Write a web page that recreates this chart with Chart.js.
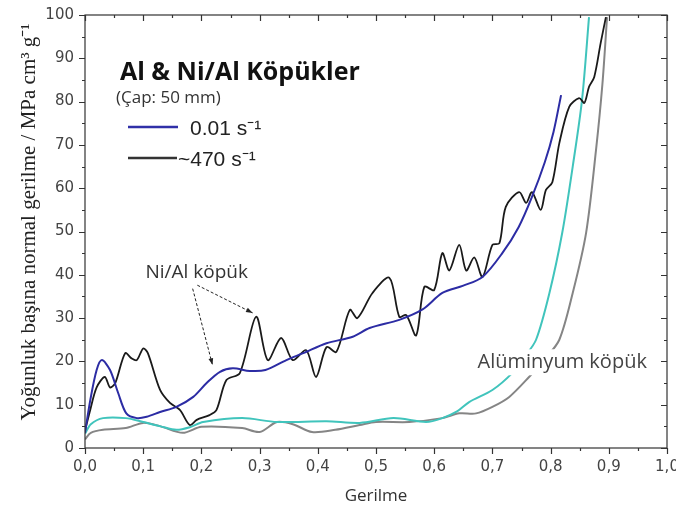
<!DOCTYPE html>
<html>
<head>
<meta charset="utf-8">
<script src="https://cdn.jsdelivr.net/npm/chart.js@4.4.0/dist/chart.umd.min.js"></script>
<style>
  html, body { margin: 0; background: #fff; }
</style>
</head>
<body>
<canvas id="foamChart" width="676" height="516"></canvas>
<script>
// Ni/Al foam, 0.01 s^-1 (blue)
const niSlowStrain = [0, 0.009, 0.02, 0.029, 0.043, 0.057, 0.071, 0.089, 0.106, 0.129, 0.157, 0.186, 0.209, 0.232, 0.254, 0.283, 0.31, 0.346, 0.375, 0.415, 0.46, 0.489, 0.54, 0.58, 0.614, 0.65, 0.683, 0.717, 0.745, 0.768, 0.79, 0.805, 0.818];
const niSlowStress = [3.5, 11, 18, 20.3, 18, 12.7, 8, 6.9, 7.2, 8.3, 9.5, 11.8, 15, 17.6, 18.4, 17.8, 18, 20.3, 21.9, 24.2, 25.7, 27.7, 29.6, 32, 35.8, 37.5, 39.5, 45, 51, 58, 66, 73, 81.5];

// Ni/Al foam, ~470 s^-1 (black)
const niFastStrain = [0, 0.009, 0.02, 0.034, 0.043, 0.052, 0.069, 0.08, 0.089, 0.1, 0.108, 0.129, 0.146, 0.163, 0.18, 0.192, 0.214, 0.226, 0.243, 0.266, 0.294, 0.314, 0.337, 0.357, 0.38, 0.397, 0.415, 0.432, 0.455, 0.468, 0.494, 0.523, 0.54, 0.552, 0.569, 0.583, 0.6, 0.614, 0.626, 0.643, 0.655, 0.669, 0.683, 0.7, 0.712, 0.723, 0.746, 0.758, 0.768, 0.783, 0.792, 0.803, 0.815, 0.832, 0.849, 0.858, 0.866, 0.875, 0.886, 0.895];
const niFastStress = [4, 8.8, 14, 16.4, 14, 15, 21.9, 20.7, 20.3, 23, 21.9, 13.4, 10.4, 8.8, 5.3, 6.5, 7.6, 8.8, 15.7, 17.3, 30.3, 20.3, 25.4, 20.3, 22.6, 16.4, 23.3, 22.2, 31.9, 30, 35.8, 39.3, 30.3, 30.7, 26, 37.2, 36.5, 45, 41, 46.9, 41, 44, 39.5, 46.9, 47.3, 55.7, 59.1, 56.6, 59.1, 55, 59.6, 61.4, 70.4, 78.8, 80.8, 79.7, 83.4, 85.7, 93.5, 99.5];

// Al foam, 0.01 s^-1 (turquoise)
const alSlowStrain = [0, 0.01, 0.031, 0.07, 0.1, 0.13, 0.157, 0.18, 0.203, 0.27, 0.33, 0.415, 0.472, 0.53, 0.586, 0.614, 0.64, 0.66, 0.7, 0.734, 0.755, 0.775, 0.798, 0.82, 0.838, 0.854, 0.866];
const alSlowStress = [3.3, 5.5, 6.9, 6.9, 6, 5, 4.2, 4.8, 6, 6.9, 6, 6.2, 5.8, 6.9, 6, 6.9, 8.5, 10.6, 13.4, 17.3, 21, 25, 35.8, 49.7, 65, 80.4, 99.5];

// Al foam, ~470 s^-1 (gray)
const alFastStrain = [0, 0.01, 0.031, 0.07, 0.1, 0.13, 0.168, 0.2, 0.27, 0.3, 0.33, 0.357, 0.39, 0.43, 0.472, 0.5, 0.557, 0.614, 0.643, 0.672, 0.7, 0.729, 0.763, 0.79, 0.815, 0.838, 0.861, 0.878, 0.889, 0.897];
const alFastStress = [2, 3.5, 4.2, 4.6, 5.8, 5, 3.5, 4.9, 4.6, 3.7, 6, 5.5, 3.7, 4.2, 5.3, 6, 6, 6.9, 8, 8, 9.5, 11.8, 16.4, 20.5, 25, 35.8, 49.7, 68.8, 84, 99.5];

const xTickLabels = ['0,0', '0,1', '0,2', '0,3', '0,4', '0,5', '0,6', '0,7', '0,8', '0,9', '1,0'];
const yTickLabels = ['0', '10', '20', '30', '40', '50', '60', '70', '80', '90', '100'];

const toPoints = (xs, ys) => xs.map((v, i) => ({ x: v, y: ys[i] }));
const isMajor = v => Math.round(v * 100) % 10 === 0;

const frameTicks = {
  id: 'frameTicks',
  afterDraw(chart) {
    const { ctx, chartArea: a, scales: { x, y } } = chart;
    ctx.save();
    ctx.strokeStyle = '#333';
    ctx.lineWidth = 1.2;
    ctx.strokeRect(a.left, a.top, a.right - a.left, a.bottom - a.top);
    ctx.beginPath();
    x.ticks.forEach(t => {
      const px = Math.round(x.getPixelForValue(t.value)) + 0.5;
      const len = isMajor(t.value) ? 6 : 3;
      ctx.moveTo(px, a.bottom); ctx.lineTo(px, a.bottom + len);
      ctx.moveTo(px, a.top); ctx.lineTo(px, a.top + len);
    });
    y.ticks.forEach(t => {
      const py = Math.round(y.getPixelForValue(t.value)) + 0.5;
      const len = Math.round(t.value) % 10 === 0 ? 6 : 3;
      ctx.moveTo(a.left, py); ctx.lineTo(a.left - len, py);
      ctx.moveTo(a.right, py); ctx.lineTo(a.right - len, py);
    });
    ctx.stroke();

    // y axis title
    ctx.translate(29, 222);
    ctx.rotate(-Math.PI / 2);
    ctx.fillStyle = '#222';
    ctx.font = '21px "Liberation Serif"';
    ctx.textAlign = 'center';
    ctx.textBaseline = 'middle';
    ctx.fillText('Yoğunluk başına normal gerilme / MPa cm³ g⁻¹', 0, 0);
    ctx.restore();
  }
};

function arrow(ctx, x1, y1, x2, y2) {
  ctx.save();
  ctx.setLineDash([3, 2]);
  ctx.beginPath();
  ctx.moveTo(x1, y1); ctx.lineTo(x2, y2);
  ctx.stroke();
  ctx.setLineDash([]);
  const ang = Math.atan2(y2 - y1, x2 - x1);
  ctx.beginPath();
  ctx.moveTo(x2, y2);
  ctx.lineTo(x2 - 7 * Math.cos(ang - 0.35), y2 - 7 * Math.sin(ang - 0.35));
  ctx.lineTo(x2 - 7 * Math.cos(ang + 0.35), y2 - 7 * Math.sin(ang + 0.35));
  ctx.closePath();
  ctx.fill();
  ctx.restore();
}

const notes = {
  id: 'notes',
  afterDatasetsDraw(chart) {
    const { ctx, scales: { x, y } } = chart;
    ctx.save();
    // legend block
    ctx.fillStyle = '#111';
    ctx.textBaseline = 'middle';
    ctx.font = 'bold 25px "Open Sans"';
    ctx.fillText('Al & Ni/Al Köpükler', 120, 73);
    ctx.fillStyle = '#333';
    ctx.font = '17px "Open Sans"';
    ctx.fillText('(Çap: 50 mm)', 116, 98);
    ctx.lineWidth = 2.5;
    ctx.strokeStyle = '#3030a8';
    ctx.beginPath(); ctx.moveTo(128, 127); ctx.lineTo(178, 127); ctx.stroke();
    ctx.strokeStyle = '#333';
    ctx.beginPath(); ctx.moveTo(128, 158); ctx.lineTo(177, 158); ctx.stroke();
    ctx.fillStyle = '#222';
    ctx.font = '21px "Liberation Sans"';
    ctx.fillText('0.01 s⁻¹', 190, 129);
    ctx.fillText('~470 s⁻¹', 178, 160);

    // Ni/Al label and arrows
    ctx.fillStyle = '#333';
    ctx.font = '19px "Open Sans"';
    ctx.textAlign = 'center';
    ctx.fillText('Ni/Al köpük', x.getPixelForValue(0.192), y.getPixelForValue(40.6));
    ctx.strokeStyle = '#222';
    ctx.fillStyle = '#222';
    ctx.lineWidth = 1;
    arrow(ctx, x.getPixelForValue(0.185), y.getPixelForValue(36.8), x.getPixelForValue(0.219), y.getPixelForValue(19.2));
    arrow(ctx, x.getPixelForValue(0.193), y.getPixelForValue(37.6), x.getPixelForValue(0.288), y.getPixelForValue(31.2));

    // aluminium label with white box over the curves
    const ax = x.getPixelForValue(0.82), ay = y.getPixelForValue(19.8);
    ctx.font = '20px "Open Sans"';
    const w = ctx.measureText('Alüminyum köpük').width;
    ctx.fillStyle = '#fff';
    ctx.fillRect(ax - w / 2 - 4, ay - 13, w + 8, 26);
    ctx.fillStyle = '#444';
    ctx.fillText('Alüminyum köpük', ax, ay);
    ctx.restore();
  }
};

new Chart(document.getElementById('foamChart'), {
  type: 'scatter',
  data: {
    datasets: [
      { label: '0.01 s⁻¹ Ni/Al', data: toPoints(niSlowStrain, niSlowStress), borderColor: '#2c2ca4', borderWidth: 2 },
      { label: '~470 s⁻¹ Ni/Al', data: toPoints(niFastStrain, niFastStress), borderColor: '#1a1a1a', borderWidth: 1.8 },
      { label: '0.01 s⁻¹ Al', data: toPoints(alSlowStrain, alSlowStress), borderColor: '#40c4bc', borderWidth: 2 },
      { label: '~470 s⁻¹ Al', data: toPoints(alFastStrain, alFastStress), borderColor: '#858585', borderWidth: 2 }
    ].map(d => Object.assign(d, { showLine: true, pointRadius: 0, tension: 0.3, fill: false }))
  },
  options: {
    responsive: false,
    animation: false,
    layout: { padding: { left: 0, top: 15, right: 9, bottom: 0 } },
    plugins: { legend: { display: false }, tooltip: { enabled: false } },
    scales: {
      x: {
        type: 'linear', min: 0, max: 1,
        afterFit: s => { s.height = 68; s.paddingLeft = 0; s.paddingRight = 0; },
        grid: { display: false, drawTicks: false },
        border: { display: false },
        ticks: {
          stepSize: 0.05, autoSkip: false, maxRotation: 0, padding: 10,
          color: '#444', font: { family: '"DejaVu Sans"', size: 15 },
          callback: v => isMajor(v) ? xTickLabels[Math.round(v * 10)] : ''
        },
        title: {
          display: true, text: 'Gerilme', color: '#333',
          font: { family: '"Open Sans"', size: 17 }, padding: { top: 0, bottom: 10 }
        }
      },
      y: {
        type: 'linear', min: 0, max: 100,
        afterFit: s => { s.width = 85; s.paddingTop = 0; s.paddingBottom = 0; },
        grid: { display: false, drawTicks: false },
        border: { display: false },
        ticks: {
          stepSize: 5, autoSkip: false, padding: 11,
          color: '#444', font: { family: '"DejaVu Sans"', size: 15 },
          callback: v => Math.round(v) % 10 === 0 ? yTickLabels[Math.round(v / 10)] : ''
        }
      }
    }
  },
  plugins: [frameTicks, notes]
});
</script>
</body>
</html>
